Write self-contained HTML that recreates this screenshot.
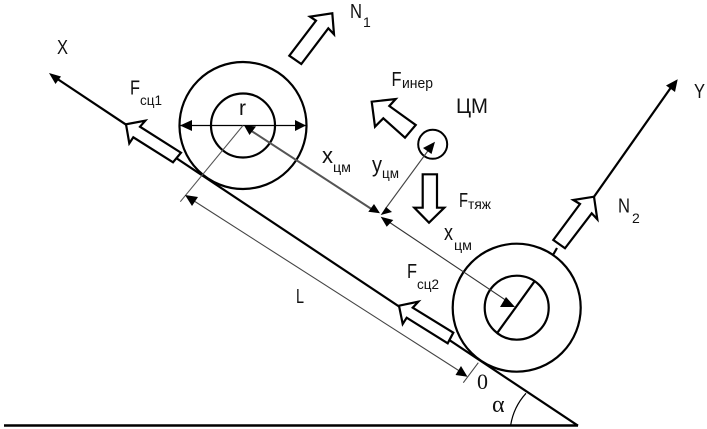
<!DOCTYPE html>
<html><head><meta charset="utf-8"><style>
html,body{margin:0;padding:0;background:#fff;width:707px;height:429px;overflow:hidden}
svg{display:block;filter:blur(0.3px)}
text{font-family:"Liberation Sans",sans-serif;fill:#111}
.m{font-size:20px}.s{font-size:14px}.l{font-size:22px}
.serif{font-family:"Liberation Serif",serif}
</style></head><body>
<svg width="707" height="429" viewBox="0 0 707 429" xmlns="http://www.w3.org/2000/svg">
<rect width="707" height="429" fill="#fff"/>
<g fill="none" stroke="#000" stroke-linecap="butt">
<line x1="4" y1="425.5" x2="578" y2="425.5" stroke-width="2.6"/>
<line x1="56" y1="78" x2="578" y2="425.7" stroke-width="2.2"/>
<line x1="594" y1="196.7" x2="672" y2="86" stroke-width="2.2"/>
<line x1="557" y1="248" x2="553" y2="255" stroke-width="2.2"/>
<circle cx="243" cy="125.5" r="63.5" stroke-width="2.2"/>
<circle cx="243" cy="125.5" r="32" stroke-width="2.2"/>
<circle cx="516.7" cy="307.7" r="64" stroke-width="2.2"/>
<circle cx="516.7" cy="307.7" r="32" stroke-width="2.2"/>
<line x1="534.3" y1="281.7" x2="497.7" y2="332.3" stroke-width="2.2"/>
<circle cx="432.7" cy="144.3" r="14.5" stroke-width="2"/>
<line x1="180" y1="125.5" x2="306" y2="125.5" stroke-width="1.3"/>
<line x1="250" y1="130" x2="373" y2="210" stroke="#555" stroke-width="2"/>
<line x1="386" y1="220" x2="510" y2="303" stroke="#333" stroke-width="1.1"/>
<line x1="386" y1="208" x2="430" y2="148" stroke="#444" stroke-width="1.1"/>
<line x1="243" y1="125.5" x2="180.3" y2="201.7" stroke="#555" stroke-width="1.1"/>
<line x1="191" y1="199" x2="461" y2="372" stroke="#444" stroke-width="1.1"/>
<line x1="478.3" y1="362.7" x2="463.3" y2="382.7" stroke="#444" stroke-width="1.1"/>
<path d="M526 393.3 A62 62 0 0 0 510.7 425" stroke-width="1.2"/>
</g>
<g fill="#fff" stroke="#000" stroke-width="2.2" stroke-linejoin="miter">
<polygon points="181,152.7 173,162.3 133.3,137.3 129.3,143.3 126,124.3 145.3,120.7 140,126.7"/>
<polygon points="289.3,55.7 301.3,64 328.3,28.3 334,34.3 332.3,13.3 310,16.7 316,20.7"/>
<polygon points="415.7,125 405,137.7 383.3,118.3 375,126.7 371.7,101.7 395.7,99 389.3,106"/>
<polygon points="422.7,174.3 437,174.3 437,207.7 444.3,207.7 429,222.7 414.3,207.7 422.7,207.7"/>
<polygon points="553.3,240 565,248.3 591.7,213.3 597.3,219.3 594,196.7 573.3,200 580,204"/>
<polygon points="453.3,332.7 447.7,343.3 406.7,317.7 402.7,324 399,305.7 418.3,301.7 412.7,307.7"/>
</g>
<g fill="#000" stroke="none">
<polygon points="49,73 61,76.5 55.5,84"/>
<polygon points="677.7,79.3 675,92 666,85.5"/>
<polygon points="180,125.5 192,120 192,131"/>
<polygon points="306,125.5 295,120 295,131"/>
<polygon points="244,125.3 256,126.5 249.5,135"/>
<polygon points="380,213.3 368.3,211.7 374,204"/>
<polygon points="380.7,216.7 393.3,220 386.7,226.7"/>
<polygon points="380.7,215 386,207 392,212"/>
<polygon points="435,141.7 431.5,154 423,148"/>
<polygon points="185,195 198,197 192,206"/>
<polygon points="467.5,376.7 455.5,375 461,366"/>
<polygon points="515,307 500,307 506,297"/>
</g>
<text class="m" x="57" y="54" textLength="11" lengthAdjust="spacingAndGlyphs">X</text>
<text class="m" x="130" y="94.5" textLength="10" lengthAdjust="spacingAndGlyphs">F</text>
<text class="s" x="140" y="105" textLength="22" lengthAdjust="spacingAndGlyphs">сц1</text>
<text x="239" y="115" font-size="21" textLength="7" lengthAdjust="spacingAndGlyphs">r</text>
<text class="l" x="322" y="163" textLength="11" lengthAdjust="spacingAndGlyphs">x</text>
<text class="s" x="333" y="172" textLength="18" lengthAdjust="spacingAndGlyphs">цм</text>
<text class="m" x="350" y="18" textLength="12" lengthAdjust="spacingAndGlyphs">N</text>
<text class="s" x="363" y="27">1</text>
<text class="m" x="391.5" y="86" textLength="10" lengthAdjust="spacingAndGlyphs">F</text>
<text x="402" y="88" font-size="15" textLength="31" lengthAdjust="spacingAndGlyphs">инер</text>
<text x="456" y="113" font-size="21" textLength="32" lengthAdjust="spacingAndGlyphs">ЦМ</text>
<text class="m" x="694" y="98" textLength="11" lengthAdjust="spacingAndGlyphs">Y</text>
<text class="l" x="372" y="172" textLength="10" lengthAdjust="spacingAndGlyphs">y</text>
<text class="s" x="382" y="178" textLength="17" lengthAdjust="spacingAndGlyphs">цм</text>
<text class="m" x="459" y="207" textLength="9" lengthAdjust="spacingAndGlyphs">F</text>
<text class="s" x="468" y="209" textLength="23" lengthAdjust="spacingAndGlyphs">тяж</text>
<text class="m" x="618" y="212.7" textLength="12" lengthAdjust="spacingAndGlyphs">N</text>
<text class="s" x="632" y="223">2</text>
<text class="l" x="444" y="240" textLength="9" lengthAdjust="spacingAndGlyphs">x</text>
<text class="s" x="454" y="250" textLength="18" lengthAdjust="spacingAndGlyphs">цм</text>
<text class="m" x="407" y="278" textLength="10" lengthAdjust="spacingAndGlyphs">F</text>
<text class="s" x="417" y="289" textLength="22" lengthAdjust="spacingAndGlyphs">сц2</text>
<text class="m" x="296" y="303" textLength="8" lengthAdjust="spacingAndGlyphs">L</text>
<text class="serif" x="477" y="389" font-size="22">0</text>
<text class="serif" x="492" y="412" font-size="24">α</text>
</svg>
</body></html>
